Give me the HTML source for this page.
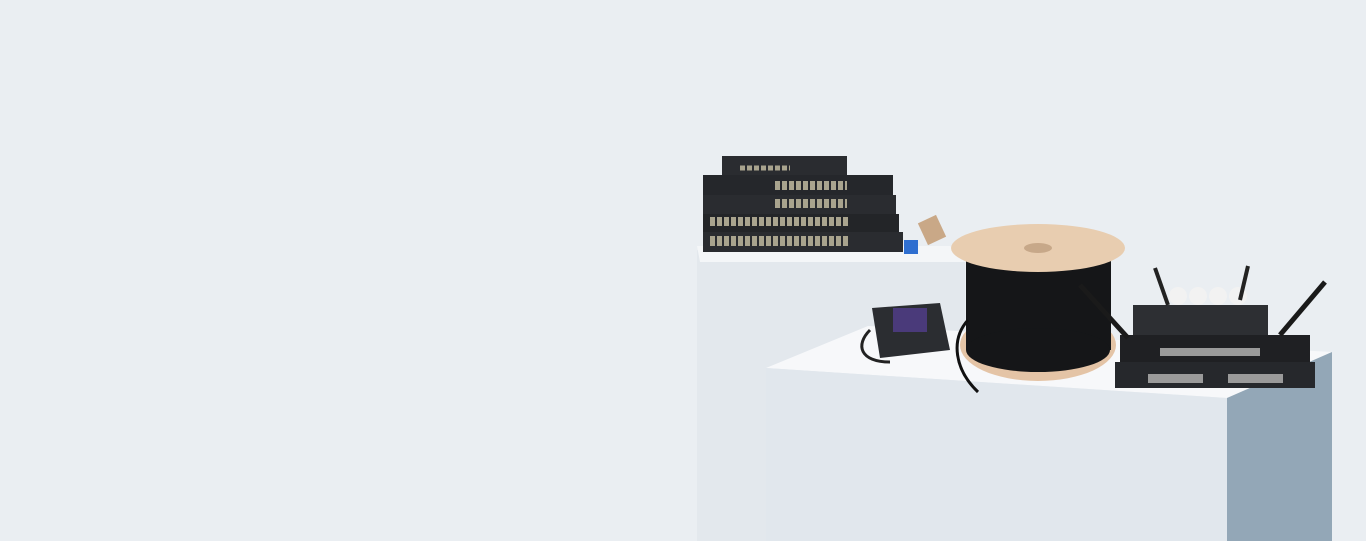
<!DOCTYPE html>
<html><head><meta charset="utf-8"><style>
html,body{margin:0;padding:0;width:1366px;height:541px;overflow:hidden;background:#eaeef2}
svg{display:block}
</style></head><body>
<svg width="1366" height="541" viewBox="0 0 1366 541" xmlns="http://www.w3.org/2000/svg">
<rect width="1366" height="541" fill="#eaeef2"/>
<polygon points="697,250 955,250 965,262 965,541 697,541" fill="#e3e8ed"/>
<polygon points="697,246 950,246 968,262 700,262" fill="#f4f6f8"/>
<polygon points="766,368 868,326 1332,352 1227,398" fill="#f7f8fa"/>
<polygon points="766,368 1227,398 1227,541 766,541" fill="#e1e7ed"/>
<polygon points="1227,398 1332,352 1332,541 1227,541" fill="#93a7b7"/>
<rect x="722" y="156" width="125" height="20" fill="#2a2c30"/>
<rect x="703" y="175" width="190" height="20" fill="#25272b"/>
<rect x="703" y="195" width="193" height="19" fill="#2a2c30"/>
<rect x="703" y="214" width="196" height="18" fill="#232528"/>
<rect x="703" y="232" width="200" height="20" fill="#2a2c30"/>
<g stroke="#a9a48e" stroke-dasharray="5,2" fill="none">
<line x1="775" y1="185.5" x2="847" y2="185.5" stroke-width="9"/>
<line x1="775" y1="203.5" x2="847" y2="203.5" stroke-width="9"/>
<line x1="710" y1="221.5" x2="850" y2="221.5" stroke-width="9"/>
<line x1="710" y1="241" x2="850" y2="241" stroke-width="10"/>
<line x1="740" y1="168" x2="790" y2="168" stroke-width="5"/></g>
<rect x="904" y="240" width="14" height="14" fill="#2f6fd0"/>
<rect x="922" y="218" width="20" height="24" fill="#c9a887" transform="rotate(-25 932 230)"/>
<ellipse cx="1038" cy="345" rx="78" ry="36" fill="#e4c4a6"/>
<rect x="966" y="255" width="145" height="95" fill="#151618"/>
<ellipse cx="1038" cy="350" rx="72" ry="22" fill="#151618"/>
<ellipse cx="1038" cy="248" rx="87" ry="24" fill="#e8cdb0"/>
<ellipse cx="1038" cy="248" rx="14" ry="5" fill="#c7a889"/>
<path d="M968,320 C950,340 955,370 978,392" stroke="#111" stroke-width="3" fill="none"/>
<polygon points="872,308 940,303 950,350 880,358" fill="#2b2d31"/>
<rect x="893" y="308" width="34" height="24" fill="#4a3a7a"/>
<path d="M870,330 C855,345 860,362 890,362" stroke="#222" stroke-width="3" fill="none"/>
<rect x="1133" y="305" width="135" height="30" fill="#2d2f33"/>
<circle cx="1178" cy="296" r="9" fill="#f2f2f2"/><circle cx="1198" cy="296" r="9" fill="#f2f2f2"/>
<circle cx="1218" cy="296" r="9" fill="#f2f2f2"/><circle cx="1238" cy="296" r="9" fill="#f2f2f2"/>
<line x1="1155" y1="268" x2="1168" y2="305" stroke="#222" stroke-width="4"/>
<line x1="1248" y1="266" x2="1240" y2="300" stroke="#222" stroke-width="4"/>
<rect x="1120" y="335" width="190" height="28" fill="#1f2023"/>
<rect x="1115" y="362" width="200" height="26" fill="#26282c"/>
<line x1="1080" y1="285" x2="1128" y2="338" stroke="#1a1a1a" stroke-width="5"/>
<line x1="1325" y1="282" x2="1280" y2="335" stroke="#1a1a1a" stroke-width="5"/>
<g fill="#9a9a9a"><rect x="1160" y="348" width="100" height="8"/><rect x="1148" y="374" width="55" height="9"/><rect x="1228" y="374" width="55" height="9"/></g>
</svg>
</body></html>
